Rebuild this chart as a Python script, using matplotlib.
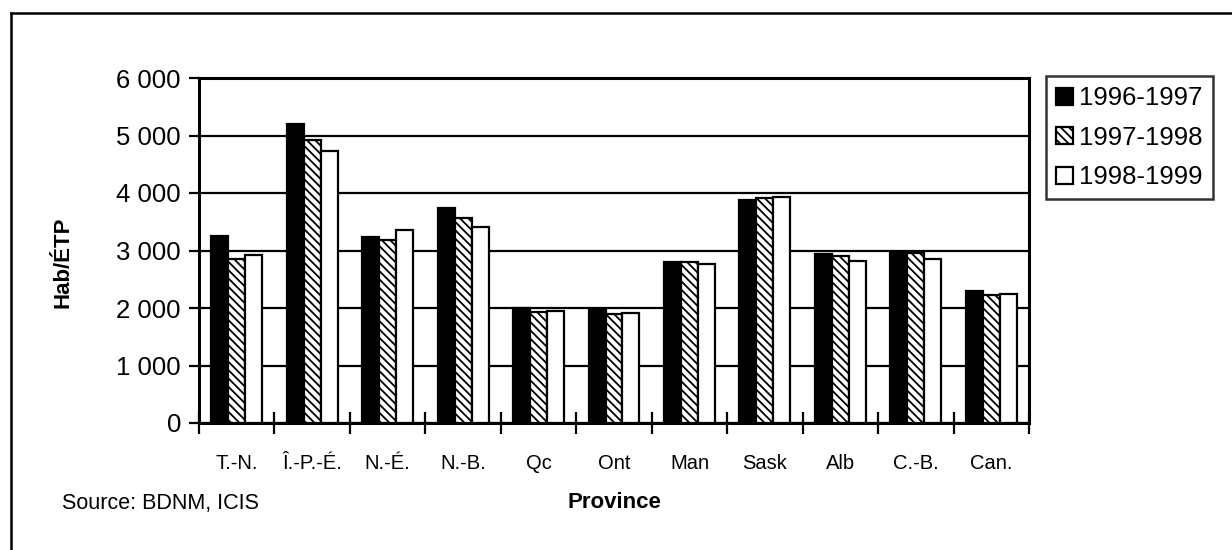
from matplotlib import pyplot as plt
from matplotlib.lines import Line2D
from matplotlib.ticker import FuncFormatter
import numpy as np

provinces = ["T.-N.", "Î.-P.-É.", "N.-É.", "N.-B.", "Qc", "Ont",
             "Man", "Sask", "Alb", "C.-B.", "Can."]
years = ["1996-1997", "1997-1998", "1998-1999"]
hab_9697 = [3250, 5200, 3230, 3740, 2000, 1965, 2800, 3880, 2940, 2980, 2300]
hab_9798 = [2860, 4920, 3180, 3570, 1930, 1895, 2800, 3915, 2905, 2955, 2225]
hab_9899 = [2920, 4730, 3360, 3410, 1950, 1915, 2765, 3930, 2820, 2850, 2240]
yticks = [0, 1000, 2000, 3000, 4000, 5000, 6000]

FONT = "Liberation Sans"


def thousands(v, pos):
    return f"{int(v):,}".replace(",", " ")


def main():
    plt.rcParams["font.family"] = FONT
    plt.rcParams["hatch.linewidth"] = 1.3
    plt.rcParams["hatch.color"] = "#333333"
    fig = plt.figure(figsize=(12.32, 5.5), dpi=100)
    ax = fig.add_axes([199 / 1232, 1 - 423 / 550, 830 / 1232, 345 / 550])

    x = np.arange(len(provinces))
    w = 0.225
    styles = [
        dict(facecolor="black", edgecolor="black", hatch=None),
        dict(facecolor="white", edgecolor="black", hatch="\\\\\\\\"),
        dict(facecolor="white", edgecolor="black", hatch=None),
    ]
    series = [hab_9697, hab_9798, hab_9899]
    for i, (vals, st) in enumerate(zip(series, styles)):
        ax.bar(x + (i - 1) * w, vals, w, label=years[i], linewidth=1.6,
               zorder=3, **st)

    ax.set_xlim(-0.5, len(provinces) - 0.5)
    ax.set_ylim(0, 6000)
    ax.set_yticks(yticks)
    ax.yaxis.set_major_formatter(FuncFormatter(thousands))
    ax.yaxis.grid(True, color="black", linewidth=1.6, zorder=0)
    ax.set_axisbelow(True)

    ax.set_xticks(np.arange(len(provinces) + 1) - 0.5)
    ax.set_xticklabels([])
    ax.set_xticks(x, minor=True)
    ax.set_xticklabels(provinces, minor=True, fontsize=14.5)
    ax.tick_params(axis="x", which="major", direction="inout", length=16,
                   width=1.6)
    ax.tick_params(axis="x", which="minor", length=0, pad=22)
    ax.tick_params(axis="y", direction="out", length=7, width=1.6,
                   labelsize=18.5, pad=6)
    for s in ax.spines.values():
        s.set_linewidth(2.2)

    fig.text(63 / 1232, 1 - 262 / 550, "Hab/ÉTP", rotation=90,
             ha="center", va="center", fontsize=16, fontweight="bold")
    fig.text(614 / 1232, 1 - 503 / 550, "Province", ha="center",
             va="center", fontsize=16, fontweight="bold")
    fig.text(62 / 1232, 1 - 503 / 550, "Source: BDNM, ICIS", ha="left",
             va="center", fontsize=15.5)

    leg = fig.legend(loc="upper left",
                     bbox_to_anchor=(1046 / 1232, 1 - 76 / 550),
                     fontsize=18.5, frameon=True, fancybox=False,
                     handlelength=0.65, handleheight=0.65, handletextpad=0.25,
                     borderpad=0.4, labelspacing=0.6, borderaxespad=0)
    leg.get_frame().set_edgecolor("black")
    leg.get_frame().set_linewidth(1.8)

    # outer frame: only top and left edges are inside the picture
    fig.lines.append(Line2D([11 / 1232, 11 / 1232], [0, 1 - 13 / 550],
                            transform=fig.transFigure, color="black",
                            linewidth=1.8))
    fig.lines.append(Line2D([11 / 1232, 1], [1 - 13 / 550, 1 - 13 / 550],
                            transform=fig.transFigure, color="black",
                            linewidth=1.8))

    fig.savefig("out.png", dpi=100)


if __name__ == "__main__":
    main()
